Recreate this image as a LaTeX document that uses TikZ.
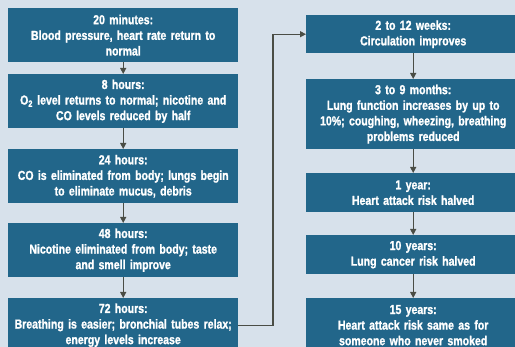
\documentclass[tikz,border=0pt]{standalone}
\usepackage{fontspec}
\newfontfamily\stagefont{Liberation Sans}[FakeStretch=0.81, UprightFont=*-Bold, FakeBold=1.2]
\usetikzlibrary{arrows.meta}
\definecolor{panel}{HTML}{D7E1EB}
\definecolor{boxblue}{HTML}{22668A}
\definecolor{linkgray}{HTML}{4A4D45}
\tikzset{
  stage/.style={fill=boxblue, text=white, align=center, anchor=north west,
    inner xsep=2pt, inner ysep=0pt,
    font=\stagefont\fontsize{13}{15.6}\selectfont},
  leftstage/.style={stage, minimum width=228pt, text width=226pt},
  rightstage/.style={stage, minimum width=212pt, text width=210pt},
  link/.style={draw=linkgray, line width=1.3pt, -{Triangle[length=6pt,width=6pt]}}
}
\begin{document}
\begin{tikzpicture}[x=1pt, y=1pt]
    % background panel
    \fill[panel] (0,0) rectangle (515,-347);
    \useasboundingbox (0,0) rectangle (515,-347);

    % left column
    \node[leftstage, minimum height=54pt] (m20) at (8,-8)
      {20 minutes:\\Blood pressure, heart rate return to\\normal};
    \node[leftstage, minimum height=54pt] (h8) at (8,-74)
      {8 hours:\\O\textsubscript{2} level returns to normal; nicotine and\\CO levels reduced by half};
    \node[leftstage, minimum height=54pt] (h24) at (8,-149)
      {24 hours:\\CO is eliminated from body; lungs begin\\to eliminate mucus, debris};
    \node[leftstage, minimum height=54pt] (h48) at (8,-223)
      {48 hours:\\Nicotine eliminated from body; taste\\and smell improve};
    \node[leftstage, minimum height=54pt] (h72) at (8,-298)
      {72 hours:\\Breathing is easier; bronchial tubes relax;\\energy levels increase};

    % right column
    \node[rightstage, minimum height=38pt] (w2) at (306,-15)
      {2 to 12 weeks:\\Circulation improves};
    \node[rightstage, minimum height=70pt] (m3) at (306,-79)
      {3 to 9 months:\\Lung function increases by up to\\10\%; coughing, wheezing, breathing\\problems reduced};
    \node[rightstage, minimum height=39pt] (y1) at (306,-173)
      {1 year:\\Heart attack risk halved};
    \node[rightstage, minimum height=39pt] (y10) at (306,-235)
      {10 years:\\Lung cancer risk halved};
    \node[rightstage, minimum height=54pt] (y15) at (306,-298)
      {15 years:\\Heart attack risk same as for\\someone who never smoked};

    % arrows
    \draw[link] (m20) -- (h8);
    \draw[link] (h8) -- (h24);
    \draw[link] (h24) -- (h48);
    \draw[link] (h48) -- (h72);
    \draw[link] (h72.east) -- ++(34.7,0) |- (w2.west);
    \draw[link] (w2) -- (m3);
    \draw[link] (m3) -- (y1);
    \draw[link] (y1) -- (y10);
    \draw[link] (y10) -- (y15);
\end{tikzpicture}
\end{document}
